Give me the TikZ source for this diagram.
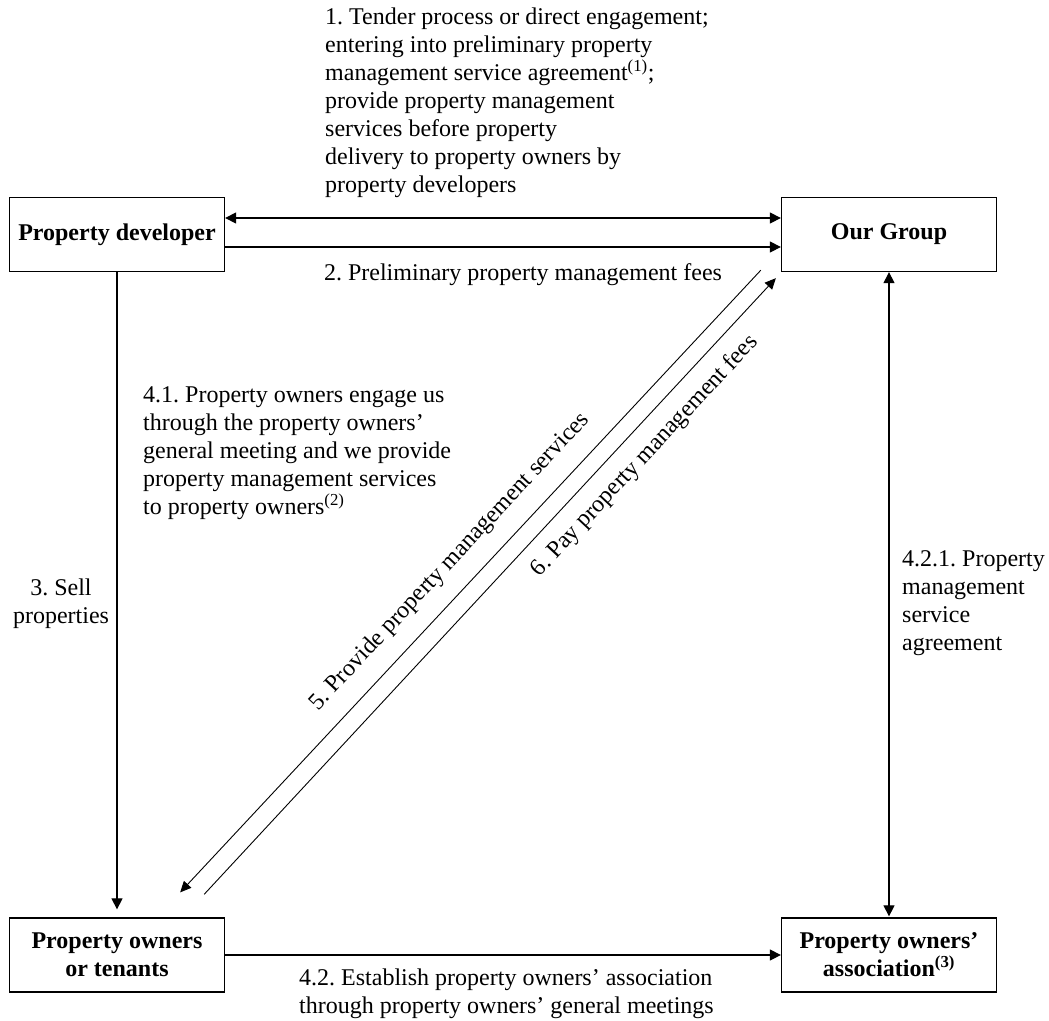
\documentclass[tikz,border=0pt]{standalone}
\usepackage{fontspec}
\setmainfont{Liberation Serif}
\usetikzlibrary{arrows.meta}
\frenchspacing
\begin{document}
\begin{tikzpicture}[x=1pt,y=-1pt,
  box/.style={draw, line width=1.3pt, minimum width=215pt, minimum height=74pt, inner sep=0pt,
              font=\fontsize{24}{28}\selectfont\bfseries, align=center},
  lbl/.style={inner sep=0pt, font=\fontsize{24}{28}\selectfont},
  conn/.style={line width=1.2pt, -{Triangle[length=11pt,width=11pt]}},
  both/.style={line width=1.2pt, {Triangle[length=11pt,width=11pt]}-{Triangle[length=11pt,width=11pt]}},
  diag/.style={line width=0.9pt, -{Triangle[length=11pt,width=10pt]}}
]
\useasboundingbox (0,0) rectangle (1049,1020);

% boxes
\node[box] (pd)  at (117,234.5) {Property developer};
\node[box] (og)  at (889,234.5) {Our Group};
\node[box] (pot) at (117,955) {Property owners\\or tenants};
\node[box] (poa) at (889,955) {Property owners’\\association\textsuperscript{(3)}};

% horizontal connectors
\draw[both] ([yshift=16.5pt]pd.east) -- ([yshift=16.5pt]og.west);
\draw[conn] ([yshift=-12.5pt]pd.east) -- ([yshift=-12.5pt]og.west);
\draw[conn] (pot.east) -- (poa.west);

% vertical connectors
\draw[conn, shorten >=8pt] (pd.south) -- (pot.north);
\draw[both, shorten >=1pt] (og.south) -- (poa.north);

% diagonal connectors
\coordinate (d5a) at ([shift={(-20pt,2pt)}]og.south west);
\coordinate (d5b) at ([shift={(-45pt,25pt)}]pot.north east);
\coordinate (d6a) at ([shift={(-21pt,23pt)}]pot.north east);
\coordinate (d6b) at ([shift={(-5pt,-6pt)}]og.south west);
\draw[diag] (d5a) -- (d5b);
\draw[diag] (d6a) -- (d6b);

% labels
\node[lbl, anchor=north west, align=left] (l1) at (325,7.6)
  {1. Tender process or direct engagement;\\
   entering into preliminary property\\
   management service agreement\textsuperscript{(1)};\\
   provide property management\\
   services before property\\
   delivery to property owners by\\
   property developers};
\node[lbl, anchor=base] (l2) at (523,280) {2. Preliminary property management fees};
\node[lbl, anchor=north west, align=left] (l41) at (143,386.8)
  {4.1. Property owners engage us\\
   through the property owners’\\
   general meeting and we provide\\
   property management services\\
   to property owners\textsuperscript{(2)}};
\node[lbl, anchor=north, align=center] (l3) at (61,578.6) {3. Sell\\properties};
\node[lbl, anchor=north west, align=left] (l421) at (902,550.8)
  {4.2.1. Property\\management\\service\\agreement};
\node[lbl, anchor=north west, align=left] (l42) at (299,968.6)
  {4.2. Establish property owners’ association\\
   through property owners’ general meetings};
\node[lbl, rotate=47] (l5) at (450,562) {5. Provide property management services};
\node[lbl, rotate=47] (l6) at (645,456) {6. Pay property management fees};
\end{tikzpicture}
\end{document}
